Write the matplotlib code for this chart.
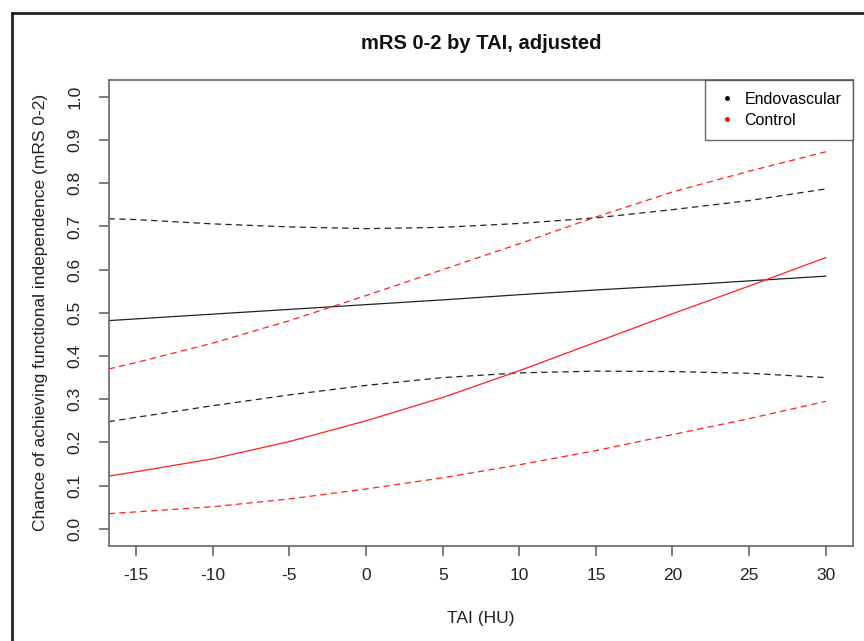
import numpy as np
import matplotlib
matplotlib.use("Agg")
import matplotlib.pyplot as plt
from matplotlib.lines import Line2D

plt.rcParams["font.family"] = ["Liberation Sans", "DejaVu Sans"]
plt.rcParams["axes.unicode_minus"] = False

tai = [-16.8, -15, -10, -5, 0, 5, 10, 15, 20, 25, 30]

# Endovascular: fit and confidence band
endo_fit = [0.482, 0.486, 0.497, 0.508, 0.519, 0.530, 0.542, 0.553, 0.563, 0.574, 0.585]
endo_upper = [0.718, 0.716, 0.706, 0.699, 0.695, 0.698, 0.707, 0.720, 0.739, 0.760, 0.787]
endo_lower = [0.248, 0.258, 0.285, 0.310, 0.332, 0.350, 0.361, 0.365, 0.364, 0.360, 0.350]

# Control: fit and confidence band
ctrl_fit = [0.122, 0.132, 0.162, 0.202, 0.250, 0.304, 0.366, 0.432, 0.498, 0.562, 0.628]
ctrl_upper = [0.370, 0.385, 0.430, 0.482, 0.540, 0.600, 0.660, 0.722, 0.780, 0.828, 0.873]
ctrl_lower = [0.035, 0.039, 0.051, 0.069, 0.092, 0.118, 0.148, 0.181, 0.218, 0.255, 0.295]

x_ticks = [-15, -10, -5, 0, 5, 10, 15, 20, 25, 30]
y_ticks = [0.0, 0.1, 0.2, 0.3, 0.4, 0.5, 0.6, 0.7, 0.8, 0.9, 1.0]

fig = plt.figure(figsize=(8.64, 6.41), dpi=100)
ax = fig.add_axes([0.1258, 0.1482, 0.8618, 0.7275])

black = "#222222"
red = "#ff2020"
dash = (5, 3.5)

ax.plot(tai, endo_fit, color=black, lw=0.9)
ax.plot(tai, endo_upper, color=black, lw=0.9, dashes=dash)
ax.plot(tai, endo_lower, color=black, lw=0.9, dashes=dash)
ax.plot(tai, ctrl_fit, color=red, lw=0.9)
ax.plot(tai, ctrl_upper, color=red, lw=0.9, dashes=dash)
ax.plot(tai, ctrl_lower, color=red, lw=0.9, dashes=dash)

ax.set_xlim(-16.8, 31.8)
ax.set_ylim(-0.04, 1.04)
ax.set_xticks(x_ticks)
ax.set_yticks(y_ticks)
ax.set_yticklabels([f"{v:.1f}" for v in y_ticks], rotation=90, va="center")

for s in ax.spines.values():
    s.set_color("#666666")
    s.set_linewidth(1.2)
ax.tick_params(direction="out", length=7, width=1.2, color="#666666",
               labelsize=12.5, labelcolor="#222222", pad=9)
ax.tick_params(axis="y", pad=12)

ax.set_xlabel("TAI (HU)", fontsize=12.5, color="#222222", labelpad=20)
ax.set_ylabel("Chance of achieving functional independence (mRS 0-2)",
              fontsize=12.5, color="#222222", labelpad=14)
ax.set_title("mRS 0-2 by TAI, adjusted", fontsize=14.5, fontweight="bold",
             color="#111111", pad=22)

handles = [
    Line2D([], [], ls="none", marker="o", ms=2.5, color="black"),
    Line2D([], [], ls="none", marker="o", ms=2.5, color="red"),
]
leg = ax.legend(handles, ["Endovascular", "Control"], loc="upper right",
                fontsize=11.5, frameon=True, fancybox=False,
                borderaxespad=0, handletextpad=0.5, handlelength=1.2,
                borderpad=0.75, labelspacing=0.4)
leg.get_frame().set_edgecolor("#444444")
leg.get_frame().set_linewidth(1.0)

# outer frame (left and top edges)
fx = 12 / 864
fy = 1 - 13 / 641
fig.add_artist(Line2D([fx, fx], [0, fy], transform=fig.transFigure,
                      color="#222222", lw=2))
fig.add_artist(Line2D([fx, 1], [fy, fy], transform=fig.transFigure,
                      color="#222222", lw=2))

fig.savefig("out.png", dpi=100)
